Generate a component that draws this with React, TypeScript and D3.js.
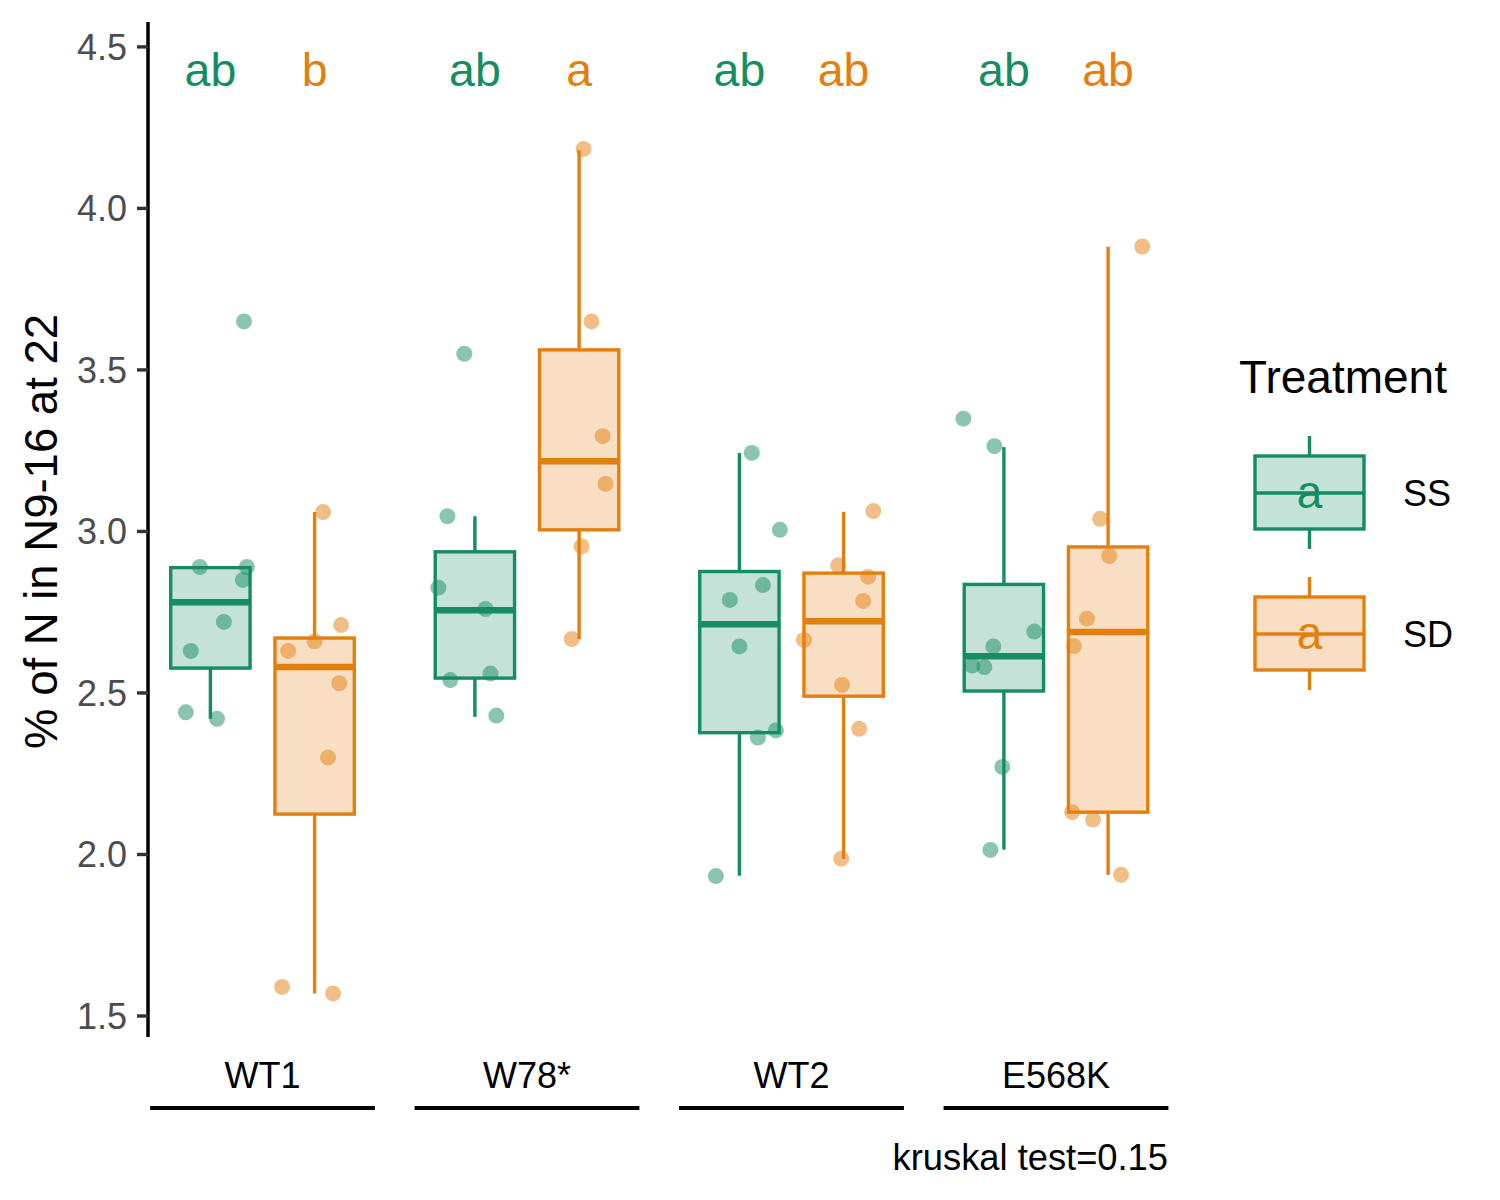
import React, { useEffect } from "react";
import * as d3 from "d3";

const groups = ["WT1", "W78*", "WT2", "E568K"];
const treatments = ["SS", "SD"];
const treatmentColors = ["#168C62", "#E37F0E"];

// box stats: [lower whisker, q1, median, q3, upper whisker]
const ssBox = [
  [2.42, 2.577, 2.781, 2.888, 2.888],
  [2.426, 2.546, 2.756, 2.937, 3.047],
  [1.934, 2.377, 2.713, 2.876, 3.243],
  [2.015, 2.506, 2.614, 2.836, 3.261],
];
const sdBox = [
  [1.57, 2.125, 2.58, 2.67, 3.06],
  [2.667, 3.005, 3.217, 3.562, 4.18],
  [1.986, 2.49, 2.722, 2.871, 3.061],
  [1.937, 2.131, 2.689, 2.952, 3.881],
];

// jittered observations (values) and their horizontal jitter (fraction of group step)
const ssValues = [
  [3.65, 2.89, 2.89, 2.85, 2.72, 2.63, 2.44, 2.42],
  [3.55, 3.047, 2.826, 2.76, 2.54, 2.56, 2.43],
  [3.243, 3.005, 2.834, 2.788, 2.644, 2.362, 2.384, 1.933],
  [3.349, 3.264, 2.69, 2.644, 2.585, 2.58, 2.271, 2.014],
];
const ssJitter = [
  [0.127, -0.04, 0.138, 0.123, 0.051, -0.074, -0.093, 0.025],
  [-0.04, -0.104, -0.138, 0.04, -0.093, 0.059, 0.081],
  [0.047, 0.153, 0.089, -0.036, 0, 0.07, 0.138, -0.089],
  [-0.153, -0.036, 0.115, -0.04, -0.119, -0.074, -0.006, -0.051],
];
const sdValues = [
  [3.06, 2.71, 2.66, 2.63, 2.53, 2.3, 1.59, 1.57],
  [4.184, 3.65, 3.295, 3.147, 2.954, 2.667],
  [3.063, 2.895, 2.86, 2.785, 2.664, 2.525, 2.389, 1.987],
  [3.882, 3.039, 2.924, 2.73, 2.645, 2.131, 2.108, 1.937],
];
const sdJitter = [
  [0.032, 0.1, 0, -0.1, 0.093, 0.051, -0.123, 0.07],
  [0.017, 0.047, 0.089, 0.1, 0.009, -0.028],
  [0.112, -0.021, 0.093, 0.074, -0.15, -0.006, 0.059, -0.009],
  [0.129, -0.03, 0.004, -0.08, -0.129, -0.136, -0.057, 0.049],
];

const ssLetters = ["ab", "ab", "ab", "ab"];
const sdLetters = ["b", "a", "ab", "ab"];
const letterY = 4.38;

const yTicks = [1.5, 2.0, 2.5, 3.0, 3.5, 4.0, 4.5];
const yLabel = "% of N in N9-16 at 22";
const legendTitle = "Treatment";
const legendKeyLetter = "a";
const footnote = "kruskal test=0.15";

const FONT = "'Liberation Sans', Arial, Helvetica, sans-serif";

export default function App() {
  useEffect(() => {
    document.body.style.margin = "0";
  }, []);

  const width = 1500;
  const height = 1200;
  const axisX = 148;

  const y = d3.scaleLinear().domain([1.435, 4.577]).range([1037, 22]);
  const x = d3.scalePoint<string>().domain(groups).range([262.5, 1056]);
  const step = x.step();
  const dodge = 0.197 * step;
  const boxW = 0.3 * step;

  const boxes = [ssBox, sdBox];
  const values = [ssValues, sdValues];
  const jitters = [ssJitter, sdJitter];
  const letters = [ssLetters, sdLetters];

  const cx = (g: number, t: number) => (x(groups[g]) as number) + (t === 0 ? -dodge : dodge);

  return (
    <svg width={width} height={height} style={{ display: "block", background: "#fff" }} fontFamily={FONT}>
      {/* boxes */}
      {treatments.map((tName, t) =>
        boxes[t].map((b, g) => {
          const c = cx(g, t);
          const col = treatmentColors[t];
          const [lo, q1, med, q3, hi] = b;
          return (
            <g key={`box-${t}-${g}`}>
              <line x1={c} x2={c} y1={y(q3)} y2={y(hi)} stroke={col} strokeWidth={3.4} />
              <line x1={c} x2={c} y1={y(q1)} y2={y(lo)} stroke={col} strokeWidth={3.4} />
              <rect
                x={c - boxW / 2}
                y={y(q3)}
                width={boxW}
                height={y(q1) - y(q3)}
                fill={col}
                fillOpacity={0.25}
                stroke={col}
                strokeWidth={3.4}
              />
              <line x1={c - boxW / 2} x2={c + boxW / 2} y1={y(med)} y2={y(med)} stroke={col} strokeWidth={6.5} />
            </g>
          );
        })
      )}
      {/* points */}
      {treatments.map((tName, t) =>
        values[t].map((vals, g) =>
          vals.map((v, i) => (
            <circle
              key={`pt-${t}-${g}-${i}`}
              cx={cx(g, t) + jitters[t][g][i] * step}
              cy={y(v)}
              r={8}
              fill={treatmentColors[t]}
              fillOpacity={0.5}
            />
          ))
        )
      )}
      {/* letters */}
      {treatments.map((tName, t) =>
        letters[t].map((l, g) => (
          <text
            key={`let-${t}-${g}`}
            x={cx(g, t)}
            y={y(letterY)}
            textAnchor="middle"
            fontSize={46.5}
            fill={treatmentColors[t]}
          >
            {l}
          </text>
        ))
      )}
      {/* y axis */}
      <line x1={axisX} x2={axisX} y1={22} y2={1037} stroke="#000" strokeWidth={3.5} />
      {yTicks.map((tv) => (
        <g key={`tick-${tv}`}>
          <line x1={axisX - 11} x2={axisX} y1={y(tv)} y2={y(tv)} stroke="#333" strokeWidth={3.4} />
          <text
            x={axisX - 21}
            y={y(tv)}
            dy="0.36em"
            textAnchor="end"
            fontSize={36}
            fill="#4D4D4D"
          >
            {tv.toFixed(1)}
          </text>
        </g>
      ))}
      <text transform={`translate(57,${y(3.0)}) rotate(-90)`} textAnchor="middle" fontSize={45.5} fill="#000">
        {yLabel}
      </text>
      {/* x labels & underlines */}
      {groups.map((gName) => {
        const c = x(gName) as number;
        return (
          <g key={`xl-${gName}`}>
            <text x={c} y={1088} textAnchor="middle" fontSize={36} fill="#000">
              {gName}
            </text>
            <line x1={c - 0.425 * step} x2={c + 0.425 * step} y1={1108} y2={1108} stroke="#000" strokeWidth={3.8} />
          </g>
        );
      })}
      <text x={1168} y={1170} textAnchor="end" fontSize={36.3} fill="#000">
        {footnote}
      </text>
      {/* legend */}
      <text x={1239} y={393} fontSize={46} fill="#000">
        {legendTitle}
      </text>
      {treatments.map((tName, t) => {
        const top = 456 + t * 141;
        const bottom = top + 73;
        const mid = top + 37;
        const kx = 1309.5;
        const col = treatmentColors[t];
        return (
          <g key={`leg-${tName}`}>
            <line x1={kx} x2={kx} y1={top - 20} y2={top} stroke={col} strokeWidth={3.4} />
            <line x1={kx} x2={kx} y1={bottom} y2={bottom + 20} stroke={col} strokeWidth={3.4} />
            <rect x={1255} y={top} width={109} height={bottom - top} fill={col} fillOpacity={0.25} stroke={col} strokeWidth={3.4} />
            <line x1={1255} x2={1364} y1={mid} y2={mid} stroke={col} strokeWidth={3.4} />
            <text x={kx} y={mid + 15} textAnchor="middle" fontSize={46} fill={col}>
              {legendKeyLetter}
            </text>
            <text x={1403} y={mid + 13} fontSize={36} fill="#000">
              {tName}
            </text>
          </g>
        );
      })}
    </svg>
  );
}
